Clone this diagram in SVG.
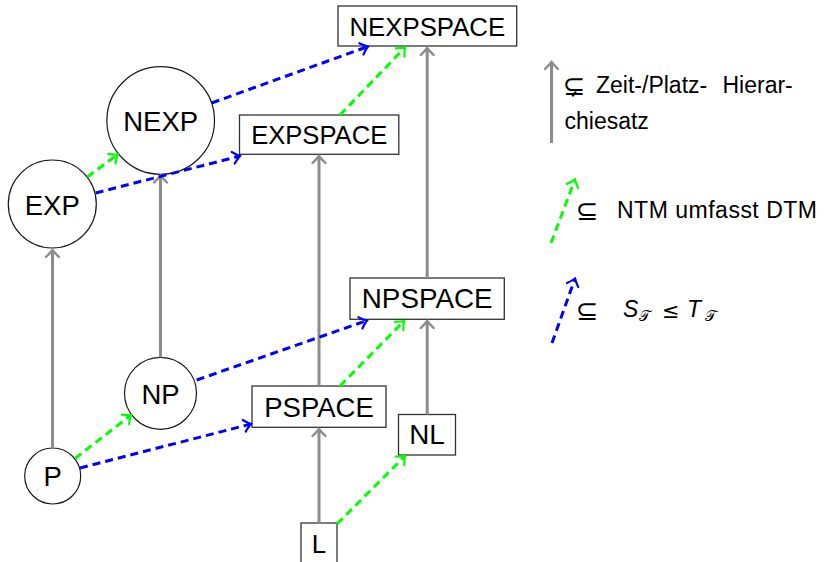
<svg xmlns="http://www.w3.org/2000/svg" width="825" height="562" viewBox="0 0 825 562">
  <style>
    .lbl { font-family: "Liberation Sans", Arial, sans-serif; font-size: 27.5px; fill: #000; text-anchor: middle; }
    .leg { font-family: "Liberation Sans", Arial, sans-serif; font-size: 23px; fill: #000; }
    .sym { font-family: "DejaVu Sans", sans-serif; font-size: 27px; fill: #000; }
    .it { font-family: "Liberation Sans", Arial, sans-serif; font-size: 23px; font-style: italic; fill: #000; }
    .cal { font-family: "DejaVu Sans", sans-serif; font-size: 15px; fill: #000; }
    .circ { fill: #fff; stroke: #1a1a1a; stroke-width: 1.2; }
    .box { fill: #fff; stroke: #333; stroke-width: 1.3; }
    .sub { stroke: #8c8c8c; stroke-width: 3; fill: none; }
    .ntm { stroke: #00ff00; stroke-width: 3; fill: none; stroke-dasharray: 8 5; }
    .spc { stroke: #0000ff; stroke-width: 3; fill: none; stroke-dasharray: 8 5; }
  </style>
  <defs>
    <marker id="ahGray" markerUnits="userSpaceOnUse" viewBox="-10 -10 20 20" markerWidth="20" markerHeight="20" refX="0" refY="0" orient="auto">
      <path d="M -7,-6.5 Q -2.5,-1.8 0,0 Q -2.5,1.8 -7,6.5" fill="none" stroke="#8c8c8c" stroke-width="2.4" stroke-linecap="round"/>
    </marker>
    <marker id="ahGreen" markerUnits="userSpaceOnUse" viewBox="-10 -10 20 20" markerWidth="20" markerHeight="20" refX="0" refY="0" orient="auto">
      <path d="M -7,-6 Q -2.5,-1.6 0,0 Q -2.5,1.6 -7,6" fill="none" stroke="#00ff00" stroke-width="2.2" stroke-linecap="round"/>
    </marker>
    <marker id="ahBlue" markerUnits="userSpaceOnUse" viewBox="-10 -10 20 20" markerWidth="20" markerHeight="20" refX="0" refY="0" orient="auto">
      <path d="M -7,-6 Q -2.5,-1.6 0,0 Q -2.5,1.6 -7,6" fill="none" stroke="#0000ff" stroke-width="2.2" stroke-linecap="round"/>
    </marker>
  </defs>

  <!-- complexity classes -->
  <g id="P"><circle class="circ" cx="52.7" cy="476" r="28"/><text class="lbl" x="52.7" y="486">P</text></g>
  <g id="NP"><circle class="circ" cx="160.5" cy="393.3" r="36"/><text class="lbl" x="160.5" y="403.8">NP</text></g>
  <g id="EXP"><circle class="circ" cx="52.3" cy="204" r="44"/><text class="lbl" x="52.3" y="214.5">EXP</text></g>
  <g id="NEXP"><circle class="circ" cx="160.7" cy="120.5" r="53.8"/><text class="lbl" x="160.7" y="130.5">NEXP</text></g>
  <g id="L"><rect class="box" x="301" y="523" width="36" height="41"/><text class="lbl" x="319" y="552.5" style="font-size:26px">L</text></g>
  <g id="NL"><rect class="box" x="398.5" y="414.5" width="57" height="40.5"/><text class="lbl" x="427" y="444.3" style="font-size:27.8px">NL</text></g>
  <g id="PSPACE"><rect class="box" x="252" y="386" width="134" height="41.3"/><text class="lbl" x="319" y="416.7">PSPACE</text></g>
  <g id="NPSPACE"><rect class="box" x="350" y="278" width="154.3" height="41.3"/><text class="lbl" x="427.2" y="308.4" style="font-size:27.8px">NPSPACE</text></g>
  <g id="EXPSPACE"><rect class="box" x="239.5" y="115" width="159.3" height="39.3"/><text class="lbl" x="319.2" y="144.2" style="font-size:25.6px">EXPSPACE</text></g>
  <g id="NEXPSPACE"><rect class="box" x="338" y="6" width="178.7" height="40"/><text class="lbl" x="427.3" y="35.6" style="font-size:25.8px">NEXPSPACE</text></g>

  <!-- inclusions -->
  <g id="connectors">
    <!-- time/space hierarchy -->
    <line class="sub" x1="52.5" y1="448" x2="52.5" y2="250" marker-end="url(#ahGray)"/>
    <line class="sub" x1="160.5" y1="357.3" x2="160.5" y2="175.5" marker-end="url(#ahGray)"/>
    <line class="sub" x1="319" y1="523" x2="319" y2="429" marker-end="url(#ahGray)"/>
    <line class="sub" x1="319" y1="386" x2="319" y2="156" marker-end="url(#ahGray)"/>
    <line class="sub" x1="427.2" y1="414.5" x2="427.2" y2="321" marker-end="url(#ahGray)"/>
    <line class="sub" x1="427.2" y1="278" x2="427.2" y2="48" marker-end="url(#ahGray)"/>
    <!-- NTM contains DTM -->
    <line class="ntm" x1="75" y1="458.5" x2="131" y2="415" marker-end="url(#ahGreen)"/>
    <line class="ntm" x1="87.3" y1="177" x2="117.5" y2="154.5" marker-end="url(#ahGreen)"/>
    <line class="ntm" x1="340" y1="115" x2="405" y2="47.5" marker-end="url(#ahGreen)"/>
    <line class="ntm" x1="340" y1="386" x2="404" y2="321" marker-end="url(#ahGreen)"/>
    <line class="ntm" x1="337" y1="524" x2="405" y2="456" marker-end="url(#ahGreen)"/>
    <!-- space bounded by time -->
    <line class="spc" x1="80" y1="468" x2="251" y2="424" marker-end="url(#ahBlue)"/>
    <line class="spc" x1="196.7" y1="380" x2="367" y2="320.5" marker-end="url(#ahBlue)"/>
    <line class="spc" x1="95.7" y1="193" x2="240" y2="156" marker-end="url(#ahBlue)"/>
    <line class="spc" x1="211.7" y1="103" x2="368" y2="46.5" marker-end="url(#ahBlue)"/>
  </g>

  <!-- legend -->
  <g id="legend">
    <line class="sub" x1="551.5" y1="143" x2="551.5" y2="62" marker-end="url(#ahGray)"/>
    <text class="sym" x="563" y="95">⊊</text>
    <text class="leg" x="596" y="93">Zeit-/Platz-</text>
    <text class="leg" x="722.5" y="93">Hierar-</text>
    <text class="leg" x="564.5" y="129">chiesatz</text>

    <line class="ntm" x1="551" y1="243" x2="575" y2="179.5" marker-end="url(#ahGreen)"/>
    <text class="sym" x="576" y="220">⊆</text>
    <text class="leg" x="617" y="218.3" textLength="200" lengthAdjust="spacing">NTM umfasst DTM</text>

    <line class="spc" x1="552" y1="343" x2="575" y2="278.5" marker-end="url(#ahBlue)"/>
    <text class="sym" x="576" y="320">⊆</text>
    <text class="it" x="623" y="316.7">S</text>
    <text class="cal" x="639" y="321">𝒯</text>
    <text class="sym" x="662" y="318" style="font-size:21px">≤</text>
    <text class="it" x="687" y="316.7">T</text>
    <text class="cal" x="705" y="321">𝒯</text>
  </g>
</svg>
